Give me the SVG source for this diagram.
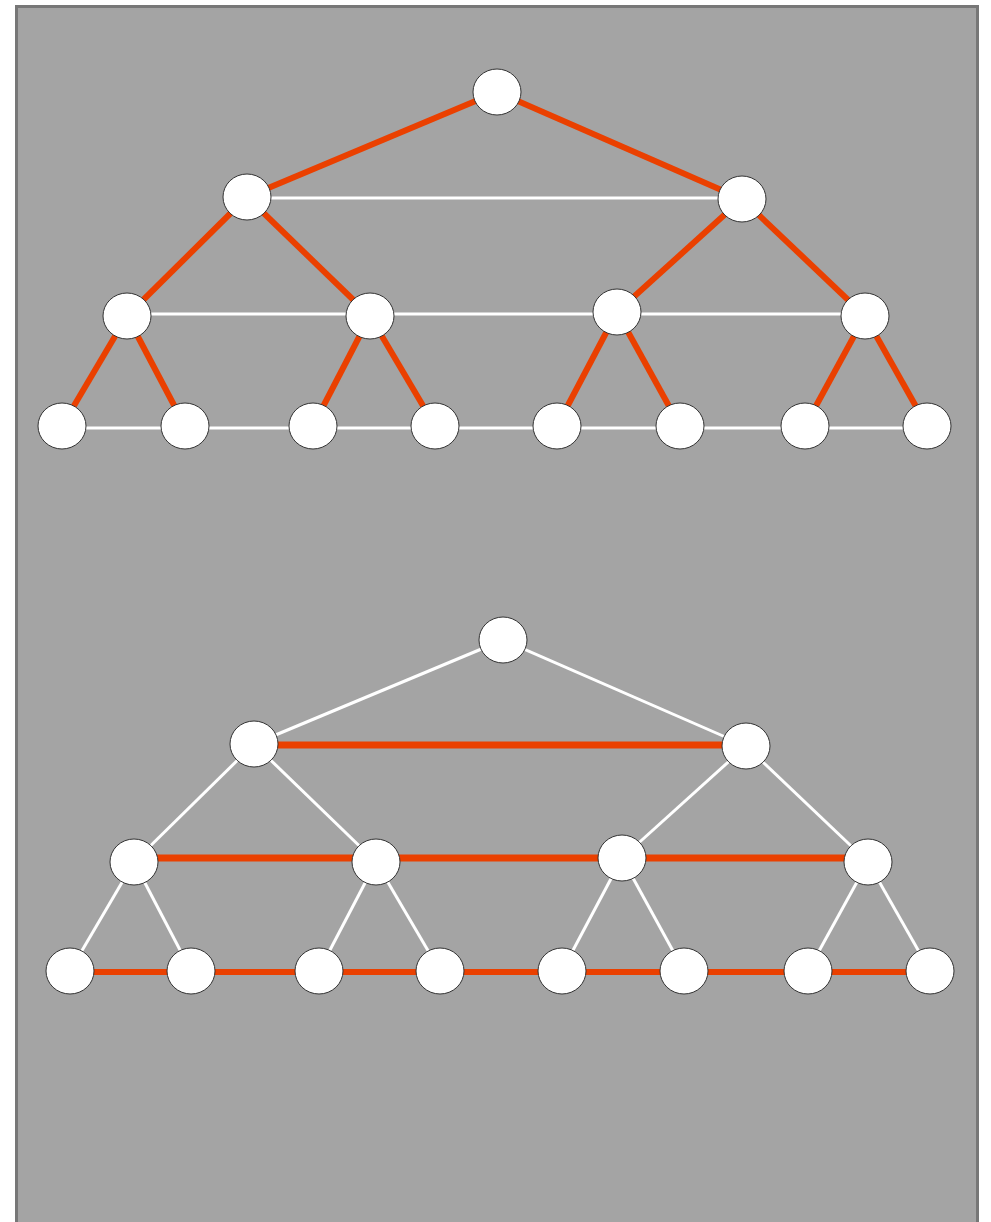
<svg xmlns="http://www.w3.org/2000/svg" width="991" height="1222" viewBox="0 0 991 1222">
<style>
.bg{fill:#a4a4a4;stroke:#777;stroke-width:3}
.n{fill:#fff;stroke:#333;stroke-width:1}
.r{stroke:#ea4000;stroke-width:6;fill:none}
.rh{stroke:#ea4000;stroke-width:7;fill:none}
.w{stroke:#fff;stroke-width:3;fill:none}
</style>
<rect class="bg" x="16.5" y="6.5" width="961" height="1230"/>
<g id="connectors">
<!-- top tree horizontals -->
<line class="w" x1="247" y1="198" x2="742" y2="198"/>
<line class="w" x1="127" y1="314" x2="865" y2="314"/>
<line class="w" x1="62" y1="428" x2="927" y2="428"/>
<!-- top tree parent-child -->
<line class="r" x1="497" y1="92" x2="247" y2="197"/>
<line class="r" x1="497" y1="92" x2="742" y2="199"/>
<line class="r" x1="247" y1="197" x2="127" y2="316"/>
<line class="r" x1="247" y1="197" x2="370" y2="316"/>
<line class="r" x1="742" y1="199" x2="617" y2="312"/>
<line class="r" x1="742" y1="199" x2="865" y2="316"/>
<line class="r" x1="127" y1="316" x2="62" y2="426"/>
<line class="r" x1="127" y1="316" x2="185" y2="426"/>
<line class="r" x1="370" y1="316" x2="313" y2="426"/>
<line class="r" x1="370" y1="316" x2="435" y2="426"/>
<line class="r" x1="617" y1="312" x2="557" y2="426"/>
<line class="r" x1="617" y1="312" x2="680" y2="426"/>
<line class="r" x1="865" y1="316" x2="805" y2="426"/>
<line class="r" x1="865" y1="316" x2="927" y2="426"/>
<!-- bottom tree parent-child -->
<line class="w" x1="503" y1="640" x2="254" y2="744"/>
<line class="w" x1="503" y1="640" x2="746" y2="746"/>
<line class="w" x1="254" y1="744" x2="134" y2="862"/>
<line class="w" x1="254" y1="744" x2="376" y2="862"/>
<line class="w" x1="746" y1="746" x2="622" y2="858"/>
<line class="w" x1="746" y1="746" x2="868" y2="862"/>
<line class="w" x1="134" y1="862" x2="70" y2="971"/>
<line class="w" x1="134" y1="862" x2="191" y2="971"/>
<line class="w" x1="376" y1="862" x2="319" y2="971"/>
<line class="w" x1="376" y1="862" x2="440" y2="971"/>
<line class="w" x1="622" y1="858" x2="562" y2="971"/>
<line class="w" x1="622" y1="858" x2="684" y2="971"/>
<line class="w" x1="868" y1="862" x2="808" y2="971"/>
<line class="w" x1="868" y1="862" x2="930" y2="971"/>
<!-- bottom tree horizontals -->
<line class="rh" x1="254" y1="745" x2="746" y2="745"/>
<line class="rh" x1="134" y1="858" x2="868" y2="858"/>
<line class="r" x1="70" y1="972" x2="930" y2="972"/>
</g>
<g id="t0"><ellipse class="n" cx="497" cy="92" rx="24" ry="23"/></g>
<g id="t1"><ellipse class="n" cx="247" cy="197" rx="24" ry="23"/></g>
<g id="t2"><ellipse class="n" cx="742" cy="199" rx="24" ry="23"/></g>
<g id="t3"><ellipse class="n" cx="127" cy="316" rx="24" ry="23"/></g>
<g id="t4"><ellipse class="n" cx="370" cy="316" rx="24" ry="23"/></g>
<g id="t5"><ellipse class="n" cx="617" cy="312" rx="24" ry="23"/></g>
<g id="t6"><ellipse class="n" cx="865" cy="316" rx="24" ry="23"/></g>
<g id="t7"><ellipse class="n" cx="62" cy="426" rx="24" ry="23"/></g>
<g id="t8"><ellipse class="n" cx="185" cy="426" rx="24" ry="23"/></g>
<g id="t9"><ellipse class="n" cx="313" cy="426" rx="24" ry="23"/></g>
<g id="t10"><ellipse class="n" cx="435" cy="426" rx="24" ry="23"/></g>
<g id="t11"><ellipse class="n" cx="557" cy="426" rx="24" ry="23"/></g>
<g id="t12"><ellipse class="n" cx="680" cy="426" rx="24" ry="23"/></g>
<g id="t13"><ellipse class="n" cx="805" cy="426" rx="24" ry="23"/></g>
<g id="t14"><ellipse class="n" cx="927" cy="426" rx="24" ry="23"/></g>
<g id="b0"><ellipse class="n" cx="503" cy="640" rx="24" ry="23"/></g>
<g id="b1"><ellipse class="n" cx="254" cy="744" rx="24" ry="23"/></g>
<g id="b2"><ellipse class="n" cx="746" cy="746" rx="24" ry="23"/></g>
<g id="b3"><ellipse class="n" cx="134" cy="862" rx="24" ry="23"/></g>
<g id="b4"><ellipse class="n" cx="376" cy="862" rx="24" ry="23"/></g>
<g id="b5"><ellipse class="n" cx="622" cy="858" rx="24" ry="23"/></g>
<g id="b6"><ellipse class="n" cx="868" cy="862" rx="24" ry="23"/></g>
<g id="b7"><ellipse class="n" cx="70" cy="971" rx="24" ry="23"/></g>
<g id="b8"><ellipse class="n" cx="191" cy="971" rx="24" ry="23"/></g>
<g id="b9"><ellipse class="n" cx="319" cy="971" rx="24" ry="23"/></g>
<g id="b10"><ellipse class="n" cx="440" cy="971" rx="24" ry="23"/></g>
<g id="b11"><ellipse class="n" cx="562" cy="971" rx="24" ry="23"/></g>
<g id="b12"><ellipse class="n" cx="684" cy="971" rx="24" ry="23"/></g>
<g id="b13"><ellipse class="n" cx="808" cy="971" rx="24" ry="23"/></g>
<g id="b14"><ellipse class="n" cx="930" cy="971" rx="24" ry="23"/></g>
</svg>
